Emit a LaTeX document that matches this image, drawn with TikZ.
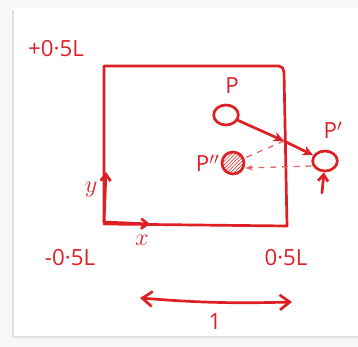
\documentclass[tikz,border=0pt]{standalone}
\usepackage{fontspec}
\setmainfont{Open Sans}
\usepackage{tikz}
\usetikzlibrary{arrows.meta, positioning, patterns, calc, shapes.geometric}
\definecolor{pen}{RGB}{222,32,36}
\tikzset{
  ink/.style={draw=pen, line width=2.3pt, line cap=round, line join=round},
  inkarrow/.style={ink, -{Stealth[length=3.2mm, width=3mm]}},
  smallarrow/.style={ink, -{Straight Barb[length=2mm, width=3mm]}},
  guide/.style={draw=pen!70, line width=1.1pt, dashed, dash pattern=on 5pt off 5pt},
  particle/.style={ellipse, ink, minimum width=0.74cm, minimum height=0.6cm, inner sep=0pt, fill=white},
  ghost/.style={circle, ink, minimum size=0.66cm, inner sep=0pt, pattern=north east lines, pattern color=pen},
  scribble/.style={font=\fontsize{19}{21}\selectfont, text=pen, inner sep=1pt},
}
\begin{document}
\begin{tikzpicture}[x=0.03cm, y=-0.03cm]
  \useasboundingbox (0,0) rectangle (358,347);
  % paper
  \fill[gray!6] (0,0) rectangle (358,347);
  \fill[white] (12,8) rectangle (358,338);
  \draw[gray!25, line width=2pt] (13,10) -- (13,337) -- (358,337);

  % box and axes
  \draw[ink] (104,222) -- (104,66) -- (279,66) to[out=0, in=95] (284,72) -- (287,226) -- (104,224);
  \coordinate (origin) at (104,222);
  \draw[smallarrow] (origin) -- (106,172);
  \draw[smallarrow] (origin) -- (150,224);
  \node[scribble, font=\fontsize{22}{24}\selectfont] (ylab) at (91,190) {$y$};
  \node[scribble, font=\fontsize{22}{24}\selectfont] (xlab) at (142,240) {$x$};

  % limits
  \node[scribble] (top) at (56,49) {+0·5L};
  \node[scribble] (lo) at (70,258) {-0·5L};
  \node[scribble] (hi) at (286,258) {0·5L};

  % particles
  \node[particle] (P) at (226,115) {};
  \node[scribble] (Plab) at (232,86) {P};
  \node[particle] (Pp) at (325,161) {};
  \node[scribble] (Pplab) at (333,130) {P$^{\prime}$};
  \node[ghost] (Ppp) at (233,163) {};
  \node[scribble, left=0pt of Ppp] (Ppplab) {P$^{\prime\prime}$};
  \coordinate (cross) at (284,141);
  \coordinate (push) at (322,193);

  % motion
  \draw[inkarrow] (P) -- (cross);
  \draw[inkarrow] (cross) -- (Pp);
  \draw[guide] (cross) -- (Ppp);
  \draw[guide, -{Stealth[length=2.2mm]}] (Pp.west) ++(0,5) -- ($(Ppp.east)+(0,5)$);
  \draw[smallarrow] (push) -- (Pp);

  % length
  \coordinate (l) at (140,298);
  \coordinate (r) at (292,302);
  \draw[ink, {Straight Barb[length=3mm, width=4.5mm]}-{Straight Barb[length=3mm, width=4.5mm]}] (l) to[bend right=3] (r);
  \node[scribble] (one) at (215,322) {1};
\end{tikzpicture}
\end{document}
